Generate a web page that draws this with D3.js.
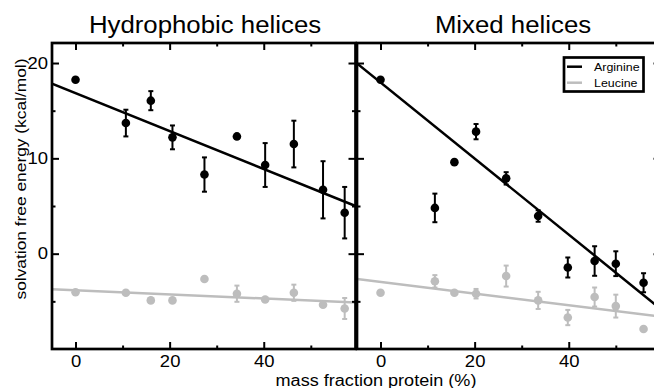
<!DOCTYPE html>
<html><head><meta charset="utf-8">
<script src="https://cdn.jsdelivr.net/npm/d3@7"></script>
<style>html,body{margin:0;padding:0;background:#fff;} svg{display:block;}</style>
</head><body><svg id="c" width="654" height="388"></svg>
<script>
// ---------- data ----------
const panelTitles = ["Hydrophobic helices", "Mixed helices"];
const seriesNames = ["Arginine", "Leucine"];
const xTicksMajor = [0, 20, 40];
const xTicksMinor = [10, 30, 50];
const yTicksMajor = [0, 10, 20];
const yTicksMinor = [-5, 5, 15];
const xAxisLabel = "mass fraction protein (%)";
const yAxisLabel = "solvation free energy (kcal/mol)";

// Hydrophobic helices
const hydroX      = [0, 10.7, 16.0, 20.6, 27.4, 34.3, 40.3, 46.4, 52.6, 57.2];
const hydroArg    = [18.25, 13.7, 16.05, 12.2, 8.3, 12.3, 9.3, 11.5, 6.7, 4.3];
const hydroArgErr = [0, 1.4, 1.0, 1.25, 1.8, 0, 2.3, 2.45, 3.0, 2.7];
const hydroLeu    = [-4.05, -4.1, -4.9, -4.9, -2.65, -4.2, -4.8, -4.1, -5.35, -5.75];
const hydroLeuErr = [0, 0, 0, 0, 0, 0.85, 0, 0.85, 0, 1.1];
const hydroArgFit = [16.84, -0.199];   // intercept, slope
const hydroLeuFit = [-3.84, -0.0216];

// Mixed helices
const mixedX      = [0, 11.55, 15.7, 20.3, 26.7, 33.5, 39.8, 45.5, 50.0, 55.9];
const mixedArg    = [18.25, 4.8, 9.6, 12.8, 7.9, 3.95, -1.45, -0.77, -1.05, -3.05];
const mixedArgErr = [0, 1.5, 0, 0.8, 0.65, 0.6, 1.05, 1.55, 1.3, 1.0];
const mixedLeu    = [-4.1, -2.9, -4.1, -4.2, -2.35, -4.9, -6.7, -4.55, -5.5, -7.9];
const mixedLeuErr = [0, 0.65, 0, 0.5, 1.1, 0.9, 0.8, 1.0, 1.2, 0];
const mixedArgFit = [17.96, -0.399];
const mixedLeuFit = [-2.96, -0.061];

// ---------- layout ----------
const FONT = "'Liberation Sans', Arial, Helvetica, sans-serif";
const colors = ["#000000", "#bdbdbd"];
const panelLeft = [52, 357];
const panelW = 303.5, plotTop = 43, plotBottom = 349;
const xDomain = [-5, 59.5], yDomain = [-10, 22.1];

const svg = d3.select("#c");
const y = d3.scaleLinear().domain(yDomain).range([plotBottom, plotTop]);

const panels = [
  {title: panelTitles[0], x: hydroX,
   series: [{v: hydroArg, e: hydroArgErr, fit: hydroArgFit}, {v: hydroLeu, e: hydroLeuErr, fit: hydroLeuFit}]},
  {title: panelTitles[1], x: mixedX,
   series: [{v: mixedArg, e: mixedArgErr, fit: mixedArgFit}, {v: mixedLeu, e: mixedLeuErr, fit: mixedLeuFit}]}
];

function stretchText(sel, sx) {
  sel.each(function() {
    const t = d3.select(this);
    const x = +t.attr("x") || 0;
    t.attr("x", 0).attr("transform", `translate(${x},0) scale(${sx},1)`);
  });
}

panels.forEach((p, pi) => {
  const x0 = panelLeft[pi];
  const x = d3.scaleLinear().domain(xDomain).range([x0, x0 + panelW]);
  const g = svg.append("g");

  const clipId = "clip" + pi;
  svg.append("clipPath").attr("id", clipId).append("rect")
    .attr("x", x0).attr("y", plotTop).attr("width", panelW).attr("height", plotBottom - plotTop);

  // fit lines
  p.series.forEach((s, si) => {
    const line = d3.line().x(d => x(d)).y(d => y(s.fit[0] + s.fit[1] * d));
    g.append("path").datum(xDomain).attr("d", line)
      .attr("fill", "none").attr("stroke", colors[si]).attr("stroke-width", 2.5)
      .attr("clip-path", `url(#${clipId})`);
  });

  // error bars and points
  p.series.forEach((s, si) => {
    const eg = g.append("g").attr("stroke", colors[si]).attr("stroke-width", 2);
    p.x.forEach((xv, i) => {
      if (s.e[i] > 0) {
        const cx = x(xv), y1 = y(s.v[i] - s.e[i]), y2 = y(s.v[i] + s.e[i]);
        eg.append("line").attr("x1", cx).attr("x2", cx).attr("y1", y1).attr("y2", y2);
        eg.append("line").attr("x1", cx - 2.5).attr("x2", cx + 2.5).attr("y1", y1).attr("y2", y1);
        eg.append("line").attr("x1", cx - 2.5).attr("x2", cx + 2.5).attr("y1", y2).attr("y2", y2);
      }
    });
    g.append("g").selectAll("circle").data(p.x).join("circle")
      .attr("cx", d => x(d)).attr("cy", (d, i) => y(s.v[i])).attr("r", 4.3)
      .attr("fill", colors[si]);
  });

  // axes (inward ticks, all four sides)
  const styleAxis = a => { a.select(".domain").remove(); a.selectAll("line").attr("stroke", "#000").attr("stroke-width", 2); };
  const bMaj = g.append("g").attr("transform", `translate(0,${plotBottom})`)
    .call(d3.axisBottom(x).tickValues(xTicksMajor).tickSize(-7).tickPadding(6.5).tickFormat(d3.format("d")));
  const bMin = g.append("g").attr("transform", `translate(0,${plotBottom})`)
    .call(d3.axisBottom(x).tickValues(xTicksMinor).tickSize(-3.5).tickFormat(""));
  const tMaj = g.append("g").attr("transform", `translate(0,${plotTop})`)
    .call(d3.axisTop(x).tickValues(xTicksMajor).tickSize(-7).tickFormat(""));
  const tMin = g.append("g").attr("transform", `translate(0,${plotTop})`)
    .call(d3.axisTop(x).tickValues(xTicksMinor).tickSize(-3.5).tickFormat(""));
  const lMaj = g.append("g").attr("transform", `translate(${x0},0)`)
    .call(d3.axisLeft(y).tickValues(yTicksMajor).tickSize(-7).tickPadding(4).tickFormat(pi === 0 ? d3.format("d") : ""));
  const lMin = g.append("g").attr("transform", `translate(${x0},0)`)
    .call(d3.axisLeft(y).tickValues(yTicksMinor).tickSize(-3.5).tickFormat(""));
  const rMaj = g.append("g").attr("transform", `translate(${x0 + panelW},0)`)
    .call(d3.axisRight(y).tickValues(yTicksMajor).tickSize(-7).tickFormat(""));
  const rMin = g.append("g").attr("transform", `translate(${x0 + panelW},0)`)
    .call(d3.axisRight(y).tickValues(yTicksMinor).tickSize(-3.5).tickFormat(""));
  [bMaj, bMin, tMaj, tMin, lMaj, lMin, rMaj, rMin].forEach(styleAxis);
  [bMaj, lMaj].forEach(a => a.selectAll("text").attr("font-family", FONT).attr("font-size", 16.5).attr("fill", "#000"));
  stretchText(bMaj.selectAll("text"), 1.12);
  stretchText(lMaj.selectAll("text"), 1.12);

  // frame
  g.append("rect").attr("x", x0).attr("y", plotTop).attr("width", panelW).attr("height", plotBottom - plotTop)
    .attr("fill", "none").attr("stroke", "#000").attr("stroke-width", 2.7);

  // title
  svg.append("text").attr("font-family", FONT).attr("font-size", 24).attr("text-anchor", "middle")
    .attr("transform", `translate(${x0 + (pi === 0 ? 153 : 156)},32.5) scale(1.075,1)`)
    .text(p.title);
});

// axis labels
svg.append("text").attr("font-family", FONT).attr("font-size", 16).attr("text-anchor", "middle")
  .attr("transform", "translate(376,385.5) scale(1.13,1)").text(xAxisLabel);
svg.append("text").attr("font-family", FONT).attr("font-size", 15.5).attr("text-anchor", "middle")
  .attr("transform", "translate(26,179) rotate(-90) scale(1.12,1)").text(yAxisLabel);

// legend
const lg = svg.append("g");
lg.append("rect").attr("x", 564).attr("y", 57.5).attr("width", 79.5).attr("height", 34)
  .attr("fill", "#fff").attr("stroke", "#000").attr("stroke-width", 2.7);
seriesNames.forEach((n, i) => {
  const ly = 66.7 + i * 16;
  lg.append("line").attr("x1", 567).attr("x2", 582).attr("y1", ly).attr("y2", ly)
    .attr("stroke", colors[i]).attr("stroke-width", 2.5);
  lg.append("text").attr("font-family", FONT).attr("font-size", 11)
    .attr("transform", `translate(594,${ly + 4}) scale(1.13,1)`).text(n);
});
</script></body></html>
